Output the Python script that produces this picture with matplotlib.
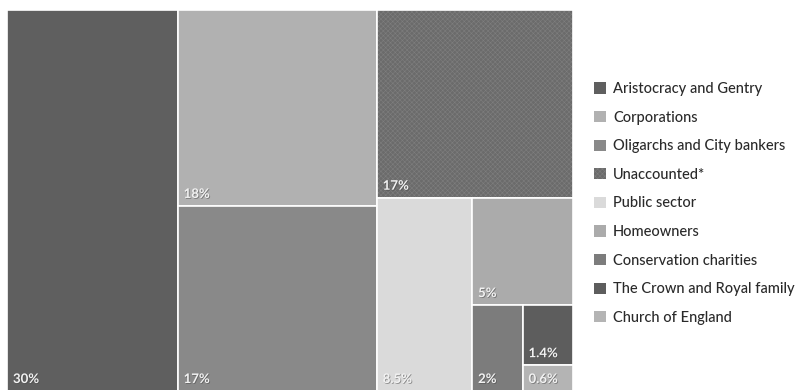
import matplotlib.pyplot as plt
from matplotlib.patches import Rectangle, Patch
import matplotlib.patheffects as pe

plt.rcParams["font.family"] = ["Lato", "DejaVu Sans"]
plt.rcParams["hatch.linewidth"] = 0.4

owners = [
    "Aristocracy and Gentry",
    "Corporations",
    "Oligarchs and City bankers",
    "Unaccounted*",
    "Public sector",
    "Homeowners",
    "Conservation charities",
    "The Crown and Royal family",
    "Church of England",
]
shares = [30, 18, 17, 17, 8.5, 5, 2, 1.4, 0.6]
share_labels = ["30%", "18%", "17%", "17%", "8.5%", "5%", "2%", "1.4%", "0.6%"]
colors = ["#5f5f5f", "#b1b1b1", "#898989", "#6b6b6b", "#dadada",
          "#ababab", "#7c7c7c", "#5d5d5d", "#b4b4b4"]
hatches = [None, None, None, "xxxxxxx", None, None, None, None, None]
# how many items go in each strip of the treemap
strips = [1, 2, 1, 1, 1, 1, 1, 2]


def layout(vals, x, y, w, h, groups):
    # strips along the shorter side, cut from the left or from the top
    rects = []
    total = sum(vals)
    i = 0
    for g in groups:
        part = vals[i:i + g]
        s = sum(part)
        if w >= h:
            sw = w * s / total
            yy = y + h
            for v in part:
                ch = h * v / s
                yy -= ch
                rects.append((x, yy, sw, ch))
            x += sw
            w -= sw
        else:
            sh = h * s / total
            xx = x
            for v in part:
                cw = w * v / s
                rects.append((xx, y + h - sh, cw, sh))
                xx += cw
            h -= sh
        total -= s
        i += g
    return rects


W, H = 566, 381
fig = plt.figure(figsize=(7.98, 3.9), dpi=100)
ax = fig.add_axes([7 / 798, (390 - 391) / 390, W / 798, H / 390])
ax.set_xlim(0, W)
ax.set_ylim(0, H)
ax.axis("off")

rects = layout(shares, 0, 0, W, H, strips)
for (x, y, w, h), c, ht, lab in zip(rects, colors, hatches, share_labels):
    if ht:
        ax.add_patch(Rectangle((x, y), w, h, facecolor=c, edgecolor="#7e7e7e",
                               hatch=ht, linewidth=0))
        ax.add_patch(Rectangle((x, y), w, h, fill=False, edgecolor="white", linewidth=1.2))
    else:
        ax.add_patch(Rectangle((x, y), w, h, facecolor=c, edgecolor="white", linewidth=1.2))
    ax.text(x + 6, y + 6, lab, color="#f2f2f2", fontsize=9.5, fontweight="bold",
            ha="left", va="bottom",
            path_effects=[pe.withSimplePatchShadow(offset=(0.6, -0.6), shadow_rgbFace="#444444", alpha=0.5)])

handles = [Patch(facecolor=c, edgecolor="#7e7e7e" if hatches[i] else c,
                 hatch=hatches[i], linewidth=0)
           for i, c in enumerate(colors)]
fig.legend(handles, owners, loc="upper left", bbox_to_anchor=(581 / 798, 1 - 69 / 390),
           frameon=False, handlelength=0.8, handleheight=0.8,
           handletextpad=0.5, labelspacing=1.0, labelcolor="#2a2a2a",
           prop={"weight": "medium", "size": 10.5})

fig.savefig("out.png", dpi=100)
